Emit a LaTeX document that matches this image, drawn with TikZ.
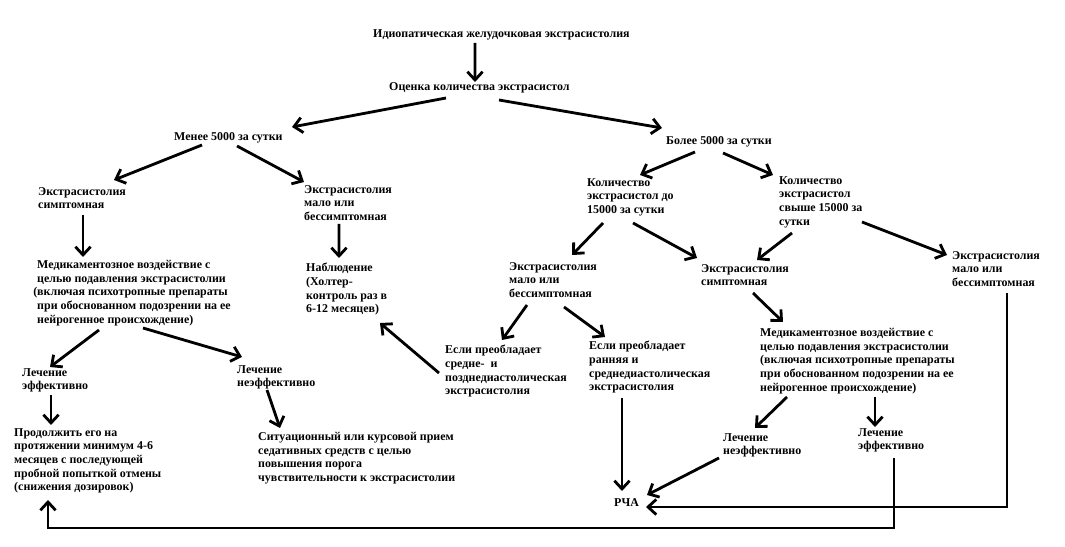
\documentclass[tikz,border=0pt]{standalone}
\usepackage{fontspec}
\setmainfont{Liberation Serif}
\usepackage{tikz}
\usetikzlibrary{arrows.meta}

\tikzset{
  lbl/.style={anchor=north west, align=left, inner sep=0pt, font=\fontsize{10.2}{11.7}\selectfont\bfseries},
  arr/.style={line width=2.4pt, -{Straight Barb[length=7pt, width=13pt]}}
}

\begin{document}
\begin{tikzpicture}[x=3mm, y=-3mm]
  \useasboundingbox (0,0) rectangle (106.5,54.7);

  % Top of the tree
  \node[lbl] (title) at (37.3, 2.9) {Идиопатическая желудочковая экстрасистолия};
  \node[lbl] (ocenka) at (38.9, 8.2) {Оценка количества экстрасистол};
  \node[lbl] (menee) at (17.4, 13.2) {Менее 5000 за сутки};
  \node[lbl] (bolee) at (66.6, 13.6) {Более 5000 за сутки};

  % Left branch
  \node[lbl] (symL) at (3.8, 18.7) {Экстрасистолия\\симптомная};
  \node[lbl] (asymL) at (30.4, 18.5) {Экстрасистолия\\мало или\\бессимптомная};
  \node[lbl] (medL) at (3.7, 26.0) {Медикаментозное воздействие с\\целью подавления экстрасистолии\\\llap{(}включая психотропные препараты\\при обоснованном подозрении на ее\\нейрогенное происхождение)};
  \node[lbl] (nabl) at (30.6, 26.3) {Наблюдение\\(Холтер-\\контроль раз в\\6-12 месяцев)};
  \node[lbl] (lechEffL) at (2.2, 36.8) {Лечение\\эффективно};
  \node[lbl] (lechNeffL) at (23.7, 36.5) {Лечение\\неэффективно};
  \node[lbl] (prodolzh) at (1.4, 42.8) {Продолжить его на\\протяжении минимум 4-6\\месяцев с последующей\\пробной попыткой отмены\\(снижения дозировок)};
  \node[lbl] (situac) at (25.8, 43.2) {Ситуационный или курсовой прием\\седативных средств с целью\\повышения порога\\чувствительности к экстрасистолии};

  % Right branch
  \node[lbl] (kol15) at (58.7, 17.8) {Количество\\экстрасистол до\\15000 за сутки};
  \node[lbl] (kolOver) at (77.9, 17.6) {Количество\\экстрасистол\\свыше 15000 за\\сутки};
  \node[lbl] (asymM) at (50.9, 26.2) {Экстрасистолия\\мало или\\бессимптомная};
  \node[lbl] (symM) at (70.1, 26.4) {Экстрасистолия\\симптомная};
  \node[lbl] (asymR) at (95.2, 25.1) {Экстрасистолия\\мало или\\бессимптомная};
  \node[lbl] (esliLate) at (44.5, 34.5) {Если преобладает\\средне-\ \ и\\позднедиастолическая\\экстрасистолия};
  \node[lbl] (esliEarly) at (58.9, 34.1) {Если преобладает\\ранняя и\\среднедиастолическая\\экстрасистолия};
  \node[lbl] (medR) at (76.0, 32.8) {Медикаментозное воздействие с\\целью подавления экстрасистолии\\(включая психотропные препараты\\при обоснованном подозрении на ее\\нейрогенное происхождение)};
  \node[lbl] (lechNeffR) at (72.3, 43.3) {Лечение\\неэффективно};
  \node[lbl] (lechEffR) at (85.8, 42.8) {Лечение\\эффективно};
  \node[lbl] (rca) at (61.4, 49.8) {РЧА};

  % Arrows, top
  \draw[arr] ([shift={(10.2,1.4)}]title.north west) -- ([shift={(8.6,0.0)}]ocenka.north west);
  \draw[arr] ([shift={(5.7,1.6)}]ocenka.north west) -- ([shift={(11.8,-0.5)}]menee.north west);
  \draw[arr] ([shift={(11.0,1.8)}]ocenka.north west) -- ([shift={(-0.4,-0.8)}]bolee.north west);

  % Arrows, left
  \draw[arr] ([shift={(2.8,1.3)}]menee.north west) -- ([shift={(7.6,-0.7)}]symL.north west);
  \draw[arr] ([shift={(6.3,1.4)}]menee.north west) -- ([shift={(0,-0.3)}]asymL.north west);
  \draw[arr] ([shift={(4.5,2.8)}]symL.north west) -- ([shift={(4.6,-0.3)}]medL.north west);
  \draw[arr] ([shift={(3.5,3.9)}]asymL.north west) -- ([shift={(3.3,-0.5)}]nabl.north west);
  \draw[arr] ([shift={(6.2,7.0)}]medL.north west) -- ([shift={(2.8,-0.1)}]lechEffL.north west);
  \draw[arr] ([shift={(10.6,6.8)}]medL.north west) -- ([shift={(0.5,-0.8)}]lechNeffL.north west);
  \draw[arr] ([shift={(2.9,2.7)}]lechEffL.north west) -- ([shift={(3.7,-0.3)}]prodolzh.north west);
  \draw[arr] ([shift={(3.0,2.5)}]lechNeffL.north west) -- ([shift={(2.2,-0.4)}]situac.north west);

  % Arrows, right
  \draw[arr] ([shift={(2.9,1.6)}]bolee.north west) -- ([shift={(5.3,-0.3)}]kol15.north west);
  \draw[arr] ([shift={(5.7,1.7)}]bolee.north west) -- ([shift={(-0.6,-0.1)}]kolOver.north west);
  \draw[arr] ([shift={(1.6,4.5)}]kol15.north west) -- ([shift={(6.3,-0.7)}]asymM.north west);
  \draw[arr] ([shift={(4.6,4.5)}]kol15.north west) -- ([shift={(-0.4,-0.6)}]symM.north west);
  \draw[arr] ([shift={(1.3,5.7)}]kolOver.north west) -- ([shift={(5.6,-0.4)}]symM.north west);
  \draw[arr] ([shift={(8.3,4.6)}]kolOver.north west) -- ([shift={(-0.5,0.4)}]asymR.north west);
  \draw[arr] ([shift={(1.8,4.3)}]asymM.north west) -- ([shift={(5.7,-0.5)}]esliLate.north west);
  \draw[arr] ([shift={(5.5,4.5)}]asymM.north west) -- ([shift={(1.6,-0.4)}]esliEarly.north west);
  \draw[arr] ([shift={(-0.6,2.8)}]esliLate.north west) -- ([shift={(7.4,6.0)}]nabl.north west);
  \draw[arr] ([shift={(5.2,2.9)}]symM.north west) -- ([shift={(2.3,-0.6)}]medR.north west);
  \draw[arr] ([shift={(2.7,6.9)}]medR.north west) -- ([shift={(3.2,-0.5)}]lechNeffR.north west);
  \draw[arr] ([shift={(11.5,6.9)}]medR.north west) -- ([shift={(1.7,-0.1)}]lechEffR.north west);

  % Arrows into RCA and the long return line
  \draw[arr] ([shift={(3.3,5.7)}]esliEarly.north west) -- ([shift={(0.8,-0.7)}]rca.north west);
  \draw[arr] ([shift={(-0.4,2.5)}]lechNeffR.north west) -- ([shift={(3.3,-0.3)}]rca.north west);
  \draw[arr] ([shift={(5.5,4.2)}]asymR.north west) |- ([shift={(3.2,0.9)}]rca.north west);
  \draw[arr] ([shift={(3.6,3.0)}]lechEffR.north west) -- ++(0,7.0) -| ([shift={(3.4,7.2)}]prodolzh.north west);
\end{tikzpicture}
\end{document}
